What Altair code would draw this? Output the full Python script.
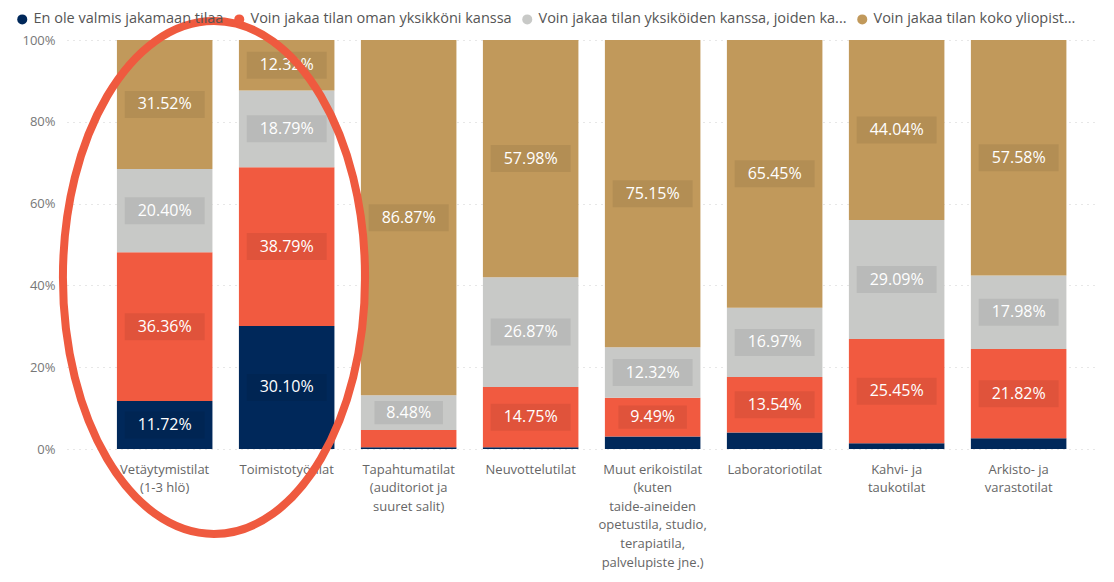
import altair as alt
import pandas as pd

categories = [
    "Vetäytymistilat|(1-3 hlö)",
    "Toimistotyötilat",
    "Tapahtumatilat|(auditoriot ja|suuret salit)",
    "Neuvottelutilat",
    "Muut erikoistilat|(kuten|taide-aineiden|opetustila, studio,|terapiatila,|palvelupiste jne.)",
    "Laboratoriotilat",
    "Kahvi- ja|taukotilat",
    "Arkisto- ja|varastotilat",
]
series = [
    "En ole valmis jakamaan tilaa",
    "Voin jakaa tilan oman yksikköni kanssa",
    "Voin jakaa tilan yksiköiden kanssa, joiden ka...",
    "Voin jakaa tilan koko yliopist...",
]
en_ole = [11.72, 30.10, 0.40, 0.40, 3.04, 4.04, 1.42, 2.62]
oma = [36.36, 38.79, 4.25, 14.75, 9.49, 13.54, 25.45, 21.82]
yksikot = [20.40, 18.79, 8.48, 26.87, 12.32, 16.97, 29.09, 17.98]
koko = [31.52, 12.32, 86.87, 57.98, 75.15, 65.45, 44.04, 57.58]
colors = ["#00285A", "#F15A40", "#C8C9C7", "#C1995B"]
y_ticks = [0, 20, 40, 60, 80, 100]

FONT = "Open Sans"

rows = []
for i, cat in enumerate(categories):
    start = 0.0
    for s, vals in zip(series, [en_ole, oma, yksikot, koko]):
        v = vals[i]
        rows.append({
            "cat": cat, "series": s, "value": v,
            "start": start, "end": start + v, "mid": start + v / 2,
            "label": f"{v:.2f}%", "show": v >= 5,
        })
        start += v
df = pd.DataFrame(rows)

xscale = alt.Scale(paddingInner=0.217, paddingOuter=0.33, align=0.62)
xenc = alt.X(
    "cat:N", sort=categories, scale=xscale,
    axis=alt.Axis(
        title=None, labelAngle=0, labelExpr="split(datum.label, '|')",
        labelFont=FONT, labelFontSize=13, labelColor="#666666",
        labelLineHeight=18.6, labelPadding=14, ticks=False, domain=False,
        labelLimit=300, grid=False,
    ),
)

base = alt.Chart(df)

bars = base.mark_bar().encode(
    x=xenc,
    y=alt.Y(
        "start:Q", scale=alt.Scale(domain=[0, 100], nice=False),
        axis=alt.Axis(
            title=None, values=y_ticks, labelExpr="datum.value + '%'",
            labelFont=FONT, labelFontSize=13, labelColor="#777777",
            ticks=False, domain=False, labelPadding=12,
            grid=True, gridColor="#cfcfcf", gridDash=[1, 5], gridWidth=1.2,
        ),
    ),
    y2="end:Q",
    color=alt.Color(
        "series:N", sort=series,
        scale=alt.Scale(domain=series, range=colors),
        legend=alt.Legend(
            title=None, orient="none", legendX=-52, legendY=-28,
            direction="horizontal", columns=4, symbolType="circle",
            symbolSize=100, symbolStrokeWidth=0, labelFont=FONT,
            labelFontSize=14.5, labelColor="#555555", labelLimit=500,
            columnPadding=8, labelOffset=4,
        ),
    ),
)

box_path = "M -1 -0.3375 L 1 -0.3375 L 1 0.3375 L -1 0.3375 Z"
boxes = base.transform_filter("datum.show").mark_point(
    shape=box_path, filled=True, color="black", opacity=0.07, strokeWidth=0
).encode(
    x=alt.X("cat:N", sort=categories, scale=xscale),
    y=alt.Y("mid:Q"),
    size=alt.condition("length(datum.label) > 5", alt.value(6400), alt.value(4700)),
)

texts = base.transform_filter("datum.show").mark_text(
    font=FONT, fontSize=16, color="#ffffff"
).encode(
    x=alt.X("cat:N", sort=categories, scale=xscale),
    y=alt.Y("mid:Q"),
    text="label:N",
)

a = 0.589
k = 0.5523
ell = (f"M {a} 0 C {a} {k}, {a*k} 1, 0 1 C {-a*k} 1, {-a} {k}, {-a} 0 "
       f"C {-a} {-k}, {-a*k} -1, 0 -1 C {a*k} -1, {a} {-k}, {a} 0 Z")
ellipse = alt.Chart(pd.DataFrame({"n": [0]})).mark_point(
    shape=ell, filled=False, stroke="#EF5A3F", strokeWidth=8, opacity=1
).encode(
    x=alt.value(147), y=alt.value(237.5), size=alt.value(513 * 513)
)

chart = alt.layer(bars, boxes, texts, ellipse).properties(
    width=1030, height=409,
    autosize=alt.AutoSizeParams(type="none"),
    padding={"left": 59, "top": 32, "right": 9, "bottom": 125},
    background="#ffffff",
).configure_view(stroke=None)

chart.save("out.html", embed_options={"renderer": "svg", "actions": False})
